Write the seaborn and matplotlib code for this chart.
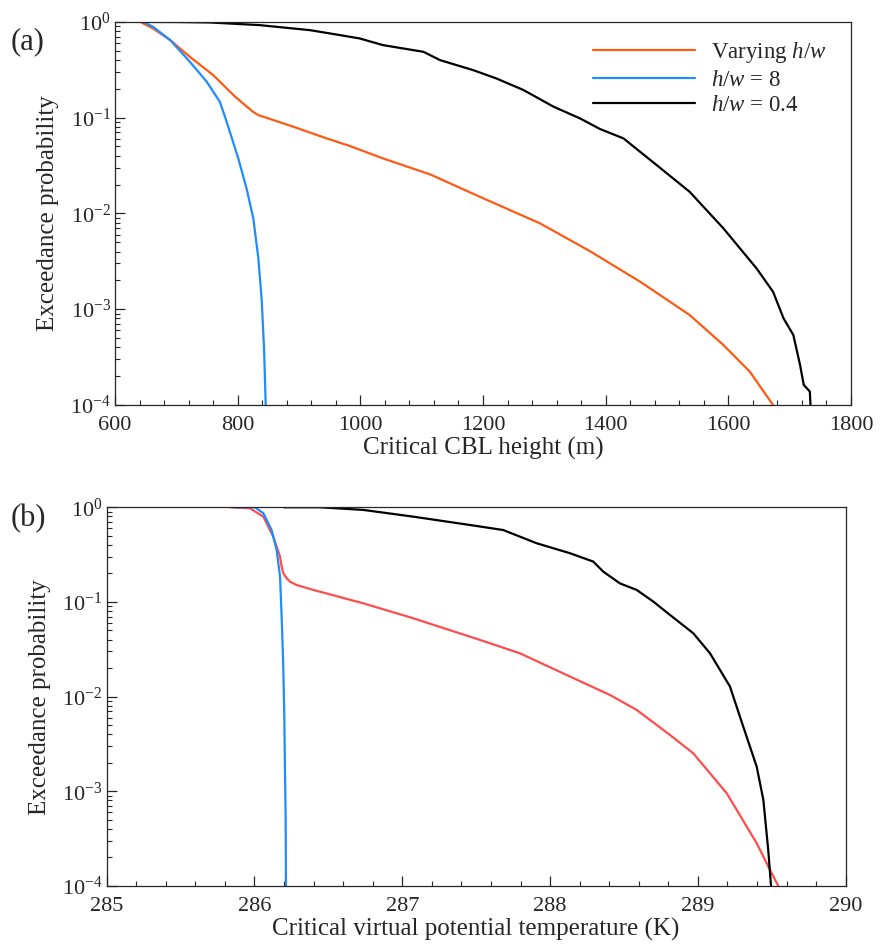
import numpy as np
import pandas as pd
import matplotlib
matplotlib.use("Agg")
import matplotlib.pyplot as plt
import matplotlib.ticker as mticker
import seaborn as sns

# ---- Panel (a): critical CBL height (m) vs exceedance probability ----
a_vary_x = [620, 641, 662, 690, 722, 760, 796, 812, 825, 834, 842, 891, 945, 983, 1037,
            1114, 1195, 1293, 1374, 1456, 1537, 1592, 1635, 1673]
a_vary_p = [1, 1, 0.851, 0.644, 0.431, 0.278, 0.165, 0.135, 0.115, 0.106, 0.102, 0.0802,
            0.0607, 0.0505, 0.0375, 0.0255, 0.0149, 0.00787, 0.00405, 0.00194, 0.000869,
            0.000423, 0.000223, 0.0001]
a_hw8_x = [620, 646, 662, 690, 722, 749.5, 771, 782, 801, 814.5, 825.5, 833.7, 839,
           843, 845.7]
a_hw8_p = [1, 1, 0.887, 0.644, 0.383, 0.237, 0.146, 0.0906, 0.0375, 0.0182, 0.00887,
           0.0034, 0.0013, 0.000391, 0.0001]
a_hw04_x = [600, 700, 755, 836, 918, 967, 999, 1037, 1103, 1130, 1184, 1222, 1266, 1315,
            1358, 1391, 1429, 1483, 1537, 1592, 1646, 1673, 1690, 1706, 1717, 1723,
            1733, 1734]
a_hw04_p = [1, 0.995, 0.984, 0.923, 0.818, 0.726, 0.67, 0.571, 0.486, 0.398, 0.313,
            0.256, 0.194, 0.13, 0.0982, 0.0759, 0.0607, 0.032, 0.0168, 0.00698, 0.00267,
            0.00152, 0.000804, 0.000538, 0.000262, 0.000162, 0.000138, 0.0001]

# ---- Panel (b): critical virtual potential temperature (K) ----
b_vary_x = [285.834, 285.97, 286.06, 286.127, 286.173, 286.184, 286.195, 286.218, 286.24,
            286.285, 286.398, 286.736, 287.074, 287.526, 287.796, 288.135, 288.406,
            288.586, 288.811, 288.969, 289.195, 289.398, 289.488, 289.544]
b_vary_p = [1, 0.975, 0.796, 0.49, 0.301, 0.236, 0.201, 0.178, 0.164, 0.151, 0.134,
            0.0968, 0.0673, 0.0397, 0.0287, 0.0163, 0.0104, 0.00724, 0.00394, 0.00252,
            0.000955, 0.000283, 0.000148, 0.0001]
b_hw8_x = [285.857, 286.003, 286.06, 286.116, 286.150, 286.173, 286.184, 286.195,
           286.202, 286.206, 286.211, 286.213]
b_hw8_p = [1, 1, 0.865, 0.575, 0.354, 0.185, 0.07, 0.0207, 0.00615, 0.00182, 0.000541,
           0.0001]
b_hw04_x = [286.2, 286.443, 286.736, 287.074, 287.458, 287.683, 287.909, 288.135,
            288.292, 288.36, 288.473, 288.586, 288.698, 288.811, 288.969, 289.082,
            289.217, 289.307, 289.398, 289.443, 289.476, 289.495]
b_hw04_p = [1, 1, 0.938, 0.796, 0.65, 0.575, 0.417, 0.327, 0.267, 0.209, 0.157, 0.134,
            0.101, 0.073, 0.0467, 0.0287, 0.0128, 0.00482, 0.00182, 0.000811, 0.00024,
            0.0001]

labels = ["Varying $h/w$", "$h/w$ = 8", "$h/w$ = 0.4"]
y_ticks = [1e-4, 1e-3, 1e-2, 1e-1, 1e0]
y_ticklabels = [r"$\mathregular{10^{-4}}$", r"$\mathregular{10^{-3}}$",
                r"$\mathregular{10^{-2}}$", r"$\mathregular{10^{-1}}$",
                r"$\mathregular{10^{0}}$"]

sns.set_style("ticks")
plt.rcParams["font.family"] = ["Liberation Serif", "DejaVu Serif"]
plt.rcParams["mathtext.fontset"] = "custom"
plt.rcParams["mathtext.rm"] = "Liberation Serif"
plt.rcParams["mathtext.it"] = "Liberation Serif:italic"
plt.rcParams["axes.linewidth"] = 0.9

fig = plt.figure(figsize=(8.8, 9.48), dpi=100)
ax_a = fig.add_axes([0.1307, 0.5728, 0.967 - 0.1307, 0.977 - 0.5728])
ax_b = fig.add_axes([0.1212, 0.0654, 0.961 - 0.1212, 0.4649 - 0.0654])


def draw(ax, series, colors):
    for (x, p, lab), c in zip(series, colors):
        df = pd.DataFrame({"x": x, "p": p})
        sns.lineplot(data=df, x="x", y="p", ax=ax, color=c, lw=1.6, label=lab,
                     sort=False, estimator=None)
    ax.set_yscale("log")
    ax.set_ylim(1e-4, 1)
    ax.set_yticks(y_ticks)
    ax.set_yticklabels(y_ticklabels)
    ax.yaxis.set_minor_locator(mticker.LogLocator(base=10, subs=np.arange(2, 10)))
    ax.yaxis.set_minor_formatter(mticker.NullFormatter())
    ax.tick_params(axis="both", which="major", direction="in", length=7, width=0.9,
                   labelsize=16, top=False, right=False)
    ax.tick_params(axis="x", which="major", pad=8)
    ax.tick_params(axis="y", which="major", pad=3)
    ax.tick_params(axis="both", which="minor", direction="in", length=3.5, width=0.8,
                   top=False, right=False)
    ax.set_ylabel("Exceedance probability", fontsize=18, labelpad=8)


draw(ax_a, [(a_vary_x, a_vary_p, labels[0]), (a_hw8_x, a_hw8_p, labels[1]),
            (a_hw04_x, a_hw04_p, labels[2])], ["#FF5A14", "#1E8CFF", "#000000"])
ax_a.set_xlim(600, 1800)
ax_a.set_xticks([600, 800, 1000, 1200, 1400, 1600, 1800])
ax_a.xaxis.set_minor_locator(mticker.MultipleLocator(40))
ax_a.set_xlabel("Critical CBL height (m)", fontsize=18, labelpad=1)
ax_a.legend(loc="upper right", bbox_to_anchor=(0.979, 0.976), borderaxespad=0,
            frameon=False, fontsize=16.5, handlelength=4.45, handletextpad=0.69,
            labelspacing=0.2)

draw(ax_b, [(b_vary_x, b_vary_p, labels[0]), (b_hw8_x, b_hw8_p, labels[1]),
            (b_hw04_x, b_hw04_p, labels[2])], ["#FF4D4D", "#1E8CFF", "#000000"])
ax_b.set_xlim(285, 290)
ax_b.set_xticks([285, 286, 287, 288, 289, 290])
ax_b.xaxis.set_minor_locator(mticker.MultipleLocator(0.2))
ax_b.set_xlabel("Critical virtual potential temperature (K)", fontsize=18, labelpad=1)
ax_b.get_legend().remove()

fig.text(0.012, 0.956, "(a)", fontsize=22, va="center", ha="left")
fig.text(0.012, 0.4533, "(b)", fontsize=22, va="center", ha="left")

fig.savefig("out.png", dpi=100)
